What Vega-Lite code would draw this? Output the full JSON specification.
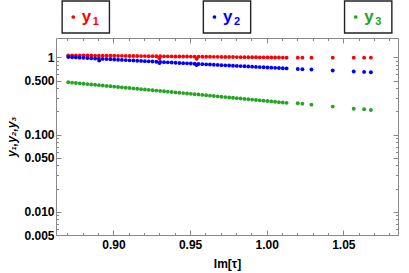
{
  "$schema": "https://vega.github.io/schema/vega-lite/v6.json",
  "padding": {"left": 5, "top": 0, "right": 7, "bottom": 3},
  "spacing": 3,
  "config": {
    "view": {"stroke": null},
    "font": "Liberation Sans",
    "axis": {
      "labelFont": "Liberation Sans", "labelFontWeight": "bold", "labelFontSize": 12, "labelColor": "#000",
      "titleFont": "Liberation Sans", "titleFontWeight": "bold", "titleFontSize": 12, "titleColor": "#000",
      "tickColor": "#888", "domainColor": "#888", "grid": false
    }
  },
  "vconcat": [
    {
      "width": 342, "height": 32,
      "data": {"values": [
        {"series": "y1", "name": "y", "sub": "1"},
        {"series": "y2", "name": "y", "sub": "2"},
        {"series": "y3", "name": "y", "sub": "3"}
      ]},
      "encoding": {
        "x": {"field": "series", "type": "nominal", "axis": null,
              "scale": {"type": "band", "paddingInner": 0.665, "paddingOuter": 0.0435}},
        "color": {"field": "series", "type": "nominal", "legend": null,
                  "scale": {"domain": ["y1", "y2", "y3"], "range": ["#ff0000", "#0000ff", "#22a622"]}}
      },
      "layer": [
        {"mark": {"type": "rect", "fill": "white", "stroke": "#222", "strokeWidth": 1.4},
         "encoding": {"color": {"value": "white"}}},
        {"mark": {"type": "point", "filled": true, "size": 14, "opacity": 1},
         "encoding": {
           "x": {"field": "series", "type": "nominal", "bandPosition": 0.235, "axis": null}
         }},
        {"mark": {"type": "text", "fontSize": 17, "fontWeight": "bold", "align": "left", "baseline": "alphabetic", "dx": -4, "dy": 4.5},
         "encoding": {"text": {"field": "name"}}},
        {"mark": {"type": "text", "fontSize": 11, "fontWeight": "bold", "align": "left", "baseline": "alphabetic", "dx": 7, "dy": 7.5},
         "encoding": {"text": {"field": "sub"}}}
      ]
    },
    {
      "width": 342, "height": 197,
      "data": {"values": [
        {"x": 0.8705, "y1": 1.062, "y2": 1.009, "y3": 0.4753},
        {"x": 0.873, "y1": 1.061, "y2": 1.003, "y3": 0.4702},
        {"x": 0.8755, "y1": 1.060, "y2": 0.997, "y3": 0.4652},
        {"x": 0.878, "y1": 1.058, "y2": 0.991, "y3": 0.4602},
        {"x": 0.8805, "y1": 1.057, "y2": 0.9845, "y3": 0.4553},
        {"x": 0.883, "y1": 1.056, "y2": 0.9785, "y3": 0.4504},
        {"x": 0.8855, "y1": 1.055, "y2": 0.9725, "y3": 0.4456},
        {"x": 0.888, "y1": 1.053, "y2": 0.9665, "y3": 0.4408},
        {"x": 0.8905, "y1": 1.052, "y2": 0.9605, "y3": 0.4361},
        {"x": 0.893, "y1": 1.051, "y2": 0.9547, "y3": 0.4314},
        {"x": 0.8955, "y1": 1.050, "y2": 0.9488, "y3": 0.4268},
        {"x": 0.898, "y1": 1.048, "y2": 0.9431, "y3": 0.4222},
        {"x": 0.9005, "y1": 1.047, "y2": 0.9373, "y3": 0.4177},
        {"x": 0.903, "y1": 1.046, "y2": 0.9316, "y3": 0.4132},
        {"x": 0.9055, "y1": 1.045, "y2": 0.9260, "y3": 0.4088},
        {"x": 0.908, "y1": 1.043, "y2": 0.9203, "y3": 0.4044},
        {"x": 0.9105, "y1": 1.042, "y2": 0.9148, "y3": 0.4001},
        {"x": 0.913, "y1": 1.041, "y2": 0.9092, "y3": 0.3958},
        {"x": 0.9155, "y1": 1.040, "y2": 0.9038, "y3": 0.3916},
        {"x": 0.918, "y1": 1.038, "y2": 0.8983, "y3": 0.3874},
        {"x": 0.9205, "y1": 1.037, "y2": 0.8929, "y3": 0.3832},
        {"x": 0.923, "y1": 1.036, "y2": 0.8875, "y3": 0.3791},
        {"x": 0.9255, "y1": 1.035, "y2": 0.8822, "y3": 0.3751},
        {"x": 0.928, "y1": 1.033, "y2": 0.8769, "y3": 0.3711},
        {"x": 0.9305, "y1": 1.032, "y2": 0.8716, "y3": 0.3671},
        {"x": 0.933, "y1": 1.031, "y2": 0.8663, "y3": 0.3632},
        {"x": 0.9355, "y1": 1.030, "y2": 0.8611, "y3": 0.3593},
        {"x": 0.938, "y1": 1.029, "y2": 0.8559, "y3": 0.3554},
        {"x": 0.9405, "y1": 1.027, "y2": 0.8507, "y3": 0.3516},
        {"x": 0.943, "y1": 1.026, "y2": 0.8456, "y3": 0.3479},
        {"x": 0.9455, "y1": 1.025, "y2": 0.8408, "y3": 0.3441},
        {"x": 0.948, "y1": 1.024, "y2": 0.8358, "y3": 0.3404},
        {"x": 0.9505, "y1": 1.022, "y2": 0.8309, "y3": 0.3368},
        {"x": 0.953, "y1": 1.021, "y2": 0.8260, "y3": 0.3332},
        {"x": 0.9555, "y1": 1.020, "y2": 0.8211, "y3": 0.3296},
        {"x": 0.958, "y1": 1.019, "y2": 0.8163, "y3": 0.3261},
        {"x": 0.9605, "y1": 1.017, "y2": 0.8115, "y3": 0.3226},
        {"x": 0.963, "y1": 1.016, "y2": 0.8067, "y3": 0.3191},
        {"x": 0.9655, "y1": 1.015, "y2": 0.8020, "y3": 0.3157},
        {"x": 0.968, "y1": 1.014, "y2": 0.7972, "y3": 0.3123},
        {"x": 0.9705, "y1": 1.012, "y2": 0.7925, "y3": 0.3090},
        {"x": 0.973, "y1": 1.011, "y2": 0.7879, "y3": 0.3057},
        {"x": 0.9755, "y1": 1.010, "y2": 0.7834, "y3": 0.3024},
        {"x": 0.978, "y1": 1.009, "y2": 0.7789, "y3": 0.2992},
        {"x": 0.9805, "y1": 1.007, "y2": 0.7744, "y3": 0.2960},
        {"x": 0.983, "y1": 1.006, "y2": 0.7699, "y3": 0.2928},
        {"x": 0.9855, "y1": 1.005, "y2": 0.7655, "y3": 0.2897},
        {"x": 0.988, "y1": 1.004, "y2": 0.7611, "y3": 0.2866},
        {"x": 0.9905, "y1": 1.002, "y2": 0.7567, "y3": 0.2835},
        {"x": 0.993, "y1": 1.001, "y2": 0.7523, "y3": 0.2805},
        {"x": 0.9955, "y1": 1.000, "y2": 0.7480, "y3": 0.2775},
        {"x": 0.998, "y1": 0.999, "y2": 0.7437, "y3": 0.2745},
        {"x": 1.0005, "y1": 0.998, "y2": 0.7394, "y3": 0.2716},
        {"x": 1.003, "y1": 0.996, "y2": 0.7351, "y3": 0.2686},
        {"x": 1.0055, "y1": 0.995, "y2": 0.7309, "y3": 0.2658},
        {"x": 1.008, "y1": 0.994, "y2": 0.7267, "y3": 0.2629},
        {"x": 1.0105, "y1": 0.993, "y2": 0.7225, "y3": 0.2601},
        {"x": 1.013, "y1": 0.991, "y2": 0.7183, "y3": 0.2573},
        {"x": 1.0203, "y1": 0.991, "y2": 0.707, "y3": 0.254},
        {"x": 1.0233, "y1": 0.991, "y2": 0.701, "y3": 0.251},
        {"x": 1.0292, "y1": 0.991, "y2": 0.695, "y3": 0.244},
        {"x": 1.0431, "y1": 0.991, "y2": 0.675, "y3": 0.230},
        {"x": 1.0568, "y1": 0.991, "y2": 0.655, "y3": 0.216},
        {"x": 1.0636, "y1": 0.991, "y2": 0.647, "y3": 0.213},
        {"x": 1.0680, "y1": 0.991, "y2": 0.641, "y3": 0.208},
        {"x": 0.8907, "y1": null, "y2": 0.907, "y3": null},
        {"x": 0.930, "y1": 0.97, "y2": 0.844, "y3": null},
        {"x": 0.9543, "y1": 0.96, "y2": 0.796, "y3": null}
      ]},
      "transform": [
        {"fold": ["y1", "y2", "y3"], "as": ["series", "value"]},
        {"filter": "isValid(datum.value)"}
      ],
      "layer": [
        {
          "mark": {"type": "point", "filled": true, "size": 15, "opacity": 1},
          "encoding": {
            "x": {"field": "x", "type": "quantitative",
                  "scale": {"domain": [0.8625, 1.0857], "nice": false, "zero": false},
                  "axis": {"orient": "bottom", "values": [0.9, 0.95, 1.0, 1.05], "format": ".2f",
                           "tickSize": -5, "labelPadding": 9, "title": "Im[τ]", "titlePadding": 8}},
            "y": {"field": "value", "type": "quantitative",
                  "scale": {"type": "log", "domain": [0.005, 1.78], "nice": false},
                  "axis": {"orient": "left", "values": [0.005, 0.01, 0.05, 0.1, 0.5, 1],
                           "labelExpr": "datum.value >= 1 ? '1' : format(datum.value, '.3f')",
                           "tickSize": -5, "labelPadding": 7, "title": "y₁,y₂,y₃",
                           "titleFontStyle": "italic", "titlePadding": 5}},
            "color": {"field": "series", "type": "nominal", "legend": null,
                      "scale": {"domain": ["y1", "y2", "y3"], "range": ["#ff0000", "#0000ff", "#22a622"]}},
            "order": {"field": "series", "type": "nominal"}
          }
        },
        {
          "mark": {"type": "point", "opacity": 0},
          "encoding": {
            "x": {"field": "x", "type": "quantitative",
                  "axis": {"orient": "bottom", "values": [0.87, 0.88, 0.89, 0.91, 0.92, 0.93, 0.94, 0.96, 0.97, 0.98, 0.99, 1.01, 1.02, 1.03, 1.04, 1.06, 1.07, 1.08],
                           "labels": false, "tickSize": -2.5, "domain": false, "title": null}},
            "y": {"field": "value", "type": "quantitative",
                  "axis": {"orient": "left", "values": [0.006, 0.007, 0.008, 0.009, 0.02, 0.03, 0.04, 0.06, 0.07, 0.08, 0.09, 0.2, 0.3, 0.4, 0.6, 0.7, 0.8, 0.9],
                           "labels": false, "tickSize": -2.5, "domain": false, "title": null}}
          }
        },
        {
          "mark": {"type": "point", "opacity": 0},
          "encoding": {
            "x": {"field": "x", "type": "quantitative",
                  "axis": {"orient": "top", "values": [0.9, 0.95, 1.0, 1.05], "labels": false, "tickSize": -5, "title": null}},
            "y": {"field": "value", "type": "quantitative",
                  "axis": {"orient": "right", "values": [0.005, 0.01, 0.05, 0.1, 0.5, 1], "labels": false, "tickSize": -5, "title": null}}
          }
        },
        {
          "mark": {"type": "point", "opacity": 0},
          "encoding": {
            "x": {"field": "x", "type": "quantitative",
                  "axis": {"orient": "top", "values": [0.87, 0.88, 0.89, 0.91, 0.92, 0.93, 0.94, 0.96, 0.97, 0.98, 0.99, 1.01, 1.02, 1.03, 1.04, 1.06, 1.07, 1.08],
                           "labels": false, "tickSize": -2.5, "domain": false, "title": null}},
            "y": {"field": "value", "type": "quantitative",
                  "axis": {"orient": "right", "values": [0.006, 0.007, 0.008, 0.009, 0.02, 0.03, 0.04, 0.06, 0.07, 0.08, 0.09, 0.2, 0.3, 0.4, 0.6, 0.7, 0.8, 0.9],
                           "labels": false, "tickSize": -2.5, "domain": false, "title": null}}
          }
        }
      ],
      "resolve": {"axis": {"x": "independent", "y": "independent"}}
    }
  ]
}
